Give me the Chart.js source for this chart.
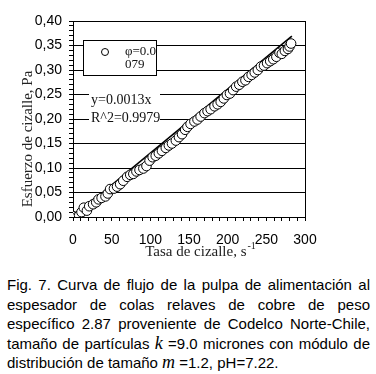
<!DOCTYPE html>
<html><head><meta charset="utf-8">
<script src="https://cdn.jsdelivr.net/npm/chart.js@4"></script>
<style>
html,body{margin:0;padding:0;background:#fff;width:376px;height:374px;overflow:hidden}
#wrap{position:absolute;left:0;top:0;width:376px;height:262px}
#cap{position:absolute;left:7px;top:275px;width:363px;font-family:"Liberation Sans",Arial,sans-serif;font-size:15px;line-height:19.5px;color:#000}
#cap div{text-align:justify;text-align-last:justify}
#cap div.last{text-align-last:left}
#cap i{font-family:"Liberation Serif","Times New Roman",serif;font-size:18px}
</style></head>
<body>
<div id="wrap"><canvas id="c" width="376" height="262"></canvas></div>
<div id="cap">
<div>Fig. 7. Curva de flujo de la pulpa de alimentación al</div>
<div>espesador de colas relaves de cobre de peso</div>
<div>específico 2.87 proveniente de Codelco Norte-Chile,</div>
<div>tamaño de partículas <i>k</i> =9.0 micrones con módulo de</div>
<div class="last">distribución de tamaño <i>m</i> =1.2, pH=7.22.</div>
</div>
<script>
const xValues = [0,5,8,11,14,18,21,26,30,33,37,42,45,48,53,57,61,65,70,74,78,82,86,91,95,99,103,107,111,115,120,124,128,133,137,141,145,148,152,157,161,165,170,174,178,183,187,191,195,199,203,207,211,215,219,223,227,231,235,239,243,247,251,255,259,263,267,270,274,278,280,282];
const yValues = [0.002,0.000,0.003,0.010,0.019,0.013,0.022,0.026,0.030,0.036,0.039,0.042,0.048,0.057,0.058,0.062,0.067,0.074,0.082,0.086,0.088,0.093,0.096,0.099,0.104,0.115,0.122,0.125,0.130,0.135,0.141,0.146,0.150,0.156,0.163,0.169,0.178,0.184,0.190,0.195,0.199,0.205,0.212,0.216,0.220,0.226,0.230,0.235,0.242,0.249,0.252,0.259,0.266,0.270,0.276,0.279,0.286,0.290,0.295,0.300,0.307,0.309,0.314,0.318,0.322,0.327,0.335,0.333,0.339,0.343,0.348,0.354];
const fitX = [0, 283];
const fitY = [0, 0.369];
const xTickLabels = ['0','50','100','150','200','250','300'];
const yTickLabels = ['0,00','0,05','0,10','0,15','0,20','0,25','0,30','0,35','0,40'];
const seriesLabel = ['φ=0.0','079'];
const fitLabel = ['y=0.0013x','R^2=0.9979'];
const xTitle = 'Tasa de cizalle, s';
const xTitleSup = '-1';
const yTitle = 'Esfuerzo de cizalle, Pa';

const decor = {
  id:'decor',
  beforeDatasetsDraw(chart){
    const {ctx, chartArea:a} = chart;
    ctx.save();
    const lx = a.left + 10, ly = a.top + 19, lw = 73, lh = 35;
    ctx.fillStyle = '#fff';
    ctx.fillRect(lx, ly, lw, lh);
    ctx.strokeStyle = '#000'; ctx.lineWidth = 1;
    ctx.strokeRect(lx+0.5, ly+0.5, lw, lh);
    ctx.beginPath(); ctx.arc(lx+22, ly+12, 3.5, 0, Math.PI*2);
    ctx.fillStyle='#fff'; ctx.fill(); ctx.stroke();
    ctx.fillStyle = '#111';
    ctx.font = '13px "Liberation Serif", serif';
    ctx.textBaseline = 'middle'; ctx.textAlign = 'left';
    ctx.fillText(seriesLabel[0], lx+42, ly+12);
    ctx.fillText(seriesLabel[1], lx+42, ly+25);
    ctx.fillStyle = '#fff';
    ctx.fillRect(a.left+16, a.top+67, 71, 36);
    ctx.fillStyle = '#111';
    ctx.font = '14px "Liberation Serif", serif';
    ctx.fillText(fitLabel[0], a.left+18, a.top+79);
    ctx.fillText(fitLabel[1], a.left+18, a.top+97);
    ctx.restore();
  },
  afterDraw(chart){
    const {ctx, chartArea:a} = chart;
    ctx.save();
    ctx.strokeStyle = '#000'; ctx.lineWidth = 1;
    ctx.beginPath();
    ctx.moveTo(a.left, a.top+0.5); ctx.lineTo(a.right+0.5, a.top+0.5);
    ctx.moveTo(a.right+0.5, a.top); ctx.lineTo(a.right+0.5, a.bottom);
    ctx.stroke();
    ctx.fillStyle = '#222';
    ctx.font = '15px "Liberation Serif", serif';
    ctx.translate(28, 139); ctx.rotate(-Math.PI/2);
    ctx.textAlign = 'center'; ctx.textBaseline = 'middle';
    ctx.fillText(yTitle, 0, 0);
    ctx.setTransform(1,0,0,1,0,0);
    ctx.textAlign = 'left'; ctx.textBaseline = 'alphabetic';
    ctx.font = '15px "Liberation Serif", serif';
    const w1 = ctx.measureText(xTitle).width;
    ctx.font = '10px "Liberation Serif", serif';
    const w2 = ctx.measureText(xTitleSup).width;
    const sx = 200 - (w1 + w2)/2;
    ctx.font = '15px "Liberation Serif", serif';
    ctx.fillText(xTitle, sx, 256);
    ctx.font = '10px "Liberation Serif", serif';
    ctx.fillText(xTitleSup, sx + w1 + 1, 249);
    ctx.restore();
  }
};

new Chart(document.getElementById('c'), {
  type:'scatter',
  data:{datasets:[
    {label: seriesLabel.join(''), data: xValues.map((x,i)=>({x:x, y:yValues[i]})),
     pointRadius:4.8, pointBorderWidth:1, pointBorderColor:'#000', pointBackgroundColor:'#fff', showLine:false},
    {type:'line', label: fitLabel[0], data: fitX.map((x,i)=>({x:x, y:fitY[i]})),
     borderColor:'#000', borderWidth:1.6, pointRadius:0, fill:false}
  ]},
  options:{
    responsive:false, animation:false, devicePixelRatio:1,
    layout:{padding:{left:0,right:71,top:21,bottom:0}},
    plugins:{legend:{display:false}, tooltip:{enabled:false}},
    scales:{
      x:{type:'linear', min:0, max:300,
        afterFit(s){ s.height = 45; },
        ticks:{stepSize:10, autoSkip:false, maxRotation:0, minRotation:0, padding:11, color:'#000',
          font:{family:'"Liberation Sans", Arial, sans-serif', size:14},
          callback:(v)=> (Math.round(v) % 50 === 0) ? xTickLabels[Math.round(v)/50] : ''},
        grid:{drawOnChartArea:false, color:'#000', tickColor:'#000', tickLength:4, lineWidth:1},
        border:{color:'#000', width:1}},
      y:{min:0, max:0.4,
        afterFit(s){ s.width = 73; },
        ticks:{stepSize:0.01, autoSkip:false, padding:7, color:'#000',
          font:{family:'"Liberation Sans", Arial, sans-serif', size:14},
          callback:(v)=>{ const k = Math.round(v*100); return k % 5 === 0 ? yTickLabels[k/5] : ''; }},
        grid:{color:(c)=>{ const k = Math.round(c.tick.value*100); return k % 5 === 0 ? '#000' : 'rgba(0,0,0,0)'; },
          tickColor:'#000', tickLength:4, lineWidth:1},
        border:{color:'#000', width:1}}
    }
  },
  plugins:[decor]
});
</script>
</body></html>
